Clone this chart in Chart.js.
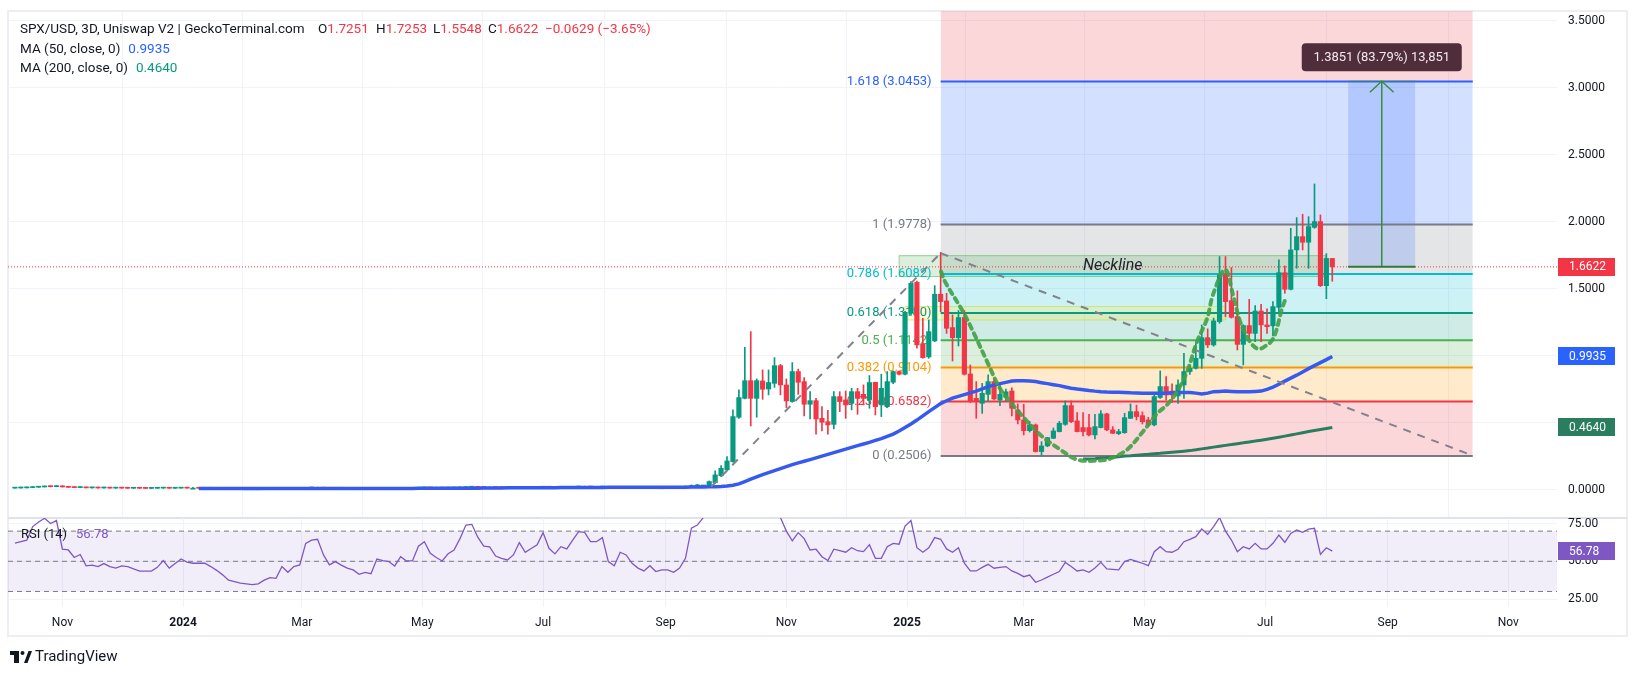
<!DOCTYPE html>
<html>
<head>
<meta charset="utf-8">
<script src="https://cdn.jsdelivr.net/npm/chart.js@4.4.0/dist/chart.umd.min.js"></script>
<style>
  html, body { margin: 0; padding: 0; background: #fff; }
  #wrap { position: relative; width: 1637px; height: 676px; overflow: hidden; }
  #wrap canvas { position: absolute; left: 0; top: 0; }
  #frame { position: absolute; left: 7px; top: 10px; width: 1621px; height: 627px; border: 2px solid #eceef3; box-sizing: border-box; }
</style>
</head>
<body>
<div id="wrap">
  <div id="frame"></div>
  <canvas id="main" width="1637" height="676"></canvas>
  <canvas id="rsi" width="1637" height="676"></canvas>
</div>
<script>
// SPX/USD 3D candles, x values are days counted from 2024-01-01
const LAST_BAR_DAY = 581;   // 2025-08-04
const BAR_DAYS = 3;

// [open, high, low, close], oldest first
const candles = [
  [0.011,0.013,0.010,0.012],[0.012,0.014,0.011,0.013],[0.013,0.016,0.012,0.015],[0.015,0.019,0.014,0.018],[0.018,0.021,0.016,0.020],
  [0.020,0.026,0.019,0.024],[0.024,0.027,0.020,0.022],[0.022,0.031,0.021,0.028],[0.028,0.029,0.019,0.020],[0.020,0.022,0.016,0.017],
  [0.017,0.019,0.014,0.015],[0.015,0.018,0.014,0.016],[0.016,0.017,0.012,0.013],[0.013,0.015,0.011,0.014],[0.014,0.015,0.011,0.012],
  [0.012,0.014,0.011,0.013],[0.013,0.014,0.010,0.011],[0.011,0.013,0.010,0.012],[0.012,0.013,0.010,0.011],[0.011,0.012,0.009,0.010],
  [0.010,0.012,0.009,0.011],[0.011,0.012,0.009,0.010],[0.010,0.011,0.008,0.009],[0.009,0.011,0.008,0.010],[0.010,0.012,0.009,0.011],
  [0.011,0.013,0.010,0.012],[0.012,0.013,0.010,0.010],[0.010,0.012,0.009,0.011],[0.011,0.013,0.010,0.012],[0.012,0.013,0.010,0.011],
  [0.011,0.012,0.010,0.011],[0.011,0.012,0.009,0.010],[0.010,0.012,0.009,0.011],[0.011,0.012,0.009,0.010],[0.010,0.011,0.008,0.009],
  [0.009,0.010,0.007,0.008],[0.008,0.009,0.006,0.007],[0.007,0.008,0.006,0.007],[0.007,0.008,0.006,0.006],[0.006,0.007,0.005,0.006],
  [0.006,0.007,0.005,0.006],[0.006,0.007,0.005,0.006],[0.006,0.008,0.005,0.007],[0.007,0.009,0.006,0.008],[0.008,0.009,0.006,0.007],
  [0.007,0.010,0.007,0.009],[0.009,0.010,0.007,0.008],[0.008,0.010,0.007,0.009],[0.009,0.010,0.008,0.009],[0.009,0.013,0.009,0.012],
  [0.012,0.014,0.011,0.013],[0.013,0.014,0.011,0.013],[0.013,0.014,0.010,0.011],[0.011,0.012,0.009,0.010],[0.010,0.012,0.009,0.011],
  [0.011,0.012,0.009,0.010],[0.010,0.011,0.009,0.010],[0.010,0.011,0.008,0.009],[0.009,0.010,0.008,0.008],[0.008,0.010,0.008,0.009],
  [0.009,0.010,0.007,0.008],[0.008,0.011,0.008,0.010],[0.010,0.011,0.009,0.010],[0.010,0.011,0.009,0.010],[0.010,0.011,0.008,0.009],
  [0.009,0.011,0.009,0.010],[0.010,0.011,0.009,0.010],[0.010,0.011,0.009,0.010],[0.010,0.013,0.010,0.012],[0.012,0.014,0.011,0.013],
  [0.013,0.014,0.011,0.012],[0.012,0.013,0.011,0.012],[0.012,0.013,0.010,0.011],[0.011,0.013,0.011,0.012],[0.012,0.014,0.011,0.013],
  [0.013,0.016,0.012,0.015],[0.015,0.019,0.014,0.018],[0.018,0.020,0.016,0.019],[0.019,0.020,0.016,0.017],[0.017,0.018,0.015,0.016],
  [0.016,0.018,0.015,0.016],[0.016,0.017,0.014,0.015],[0.015,0.016,0.013,0.014],[0.014,0.015,0.013,0.014],[0.014,0.016,0.013,0.015],
  [0.015,0.018,0.015,0.017],[0.017,0.018,0.015,0.016],[0.016,0.018,0.015,0.017],[0.017,0.019,0.016,0.018],[0.018,0.021,0.017,0.020],
  [0.020,0.021,0.017,0.018],[0.018,0.019,0.016,0.017],[0.017,0.019,0.016,0.018],[0.018,0.019,0.016,0.017],[0.017,0.020,0.017,0.019],
  [0.019,0.022,0.018,0.021],[0.021,0.022,0.019,0.021],[0.021,0.022,0.018,0.019],[0.019,0.020,0.017,0.019],[0.019,0.021,0.018,0.020],
  [0.020,0.021,0.016,0.017],[0.017,0.018,0.015,0.016],[0.016,0.019,0.016,0.018],[0.018,0.019,0.016,0.017],[0.017,0.018,0.015,0.016],
  [0.016,0.017,0.014,0.015],[0.015,0.016,0.013,0.014],[0.014,0.016,0.013,0.015],[0.015,0.016,0.013,0.014],[0.014,0.015,0.013,0.014],
  [0.014,0.016,0.013,0.015],[0.015,0.016,0.013,0.014],[0.014,0.016,0.013,0.015],
  [0.015,0.028,0.014,0.025],[0.020,0.035,0.018,0.030],[0.022,0.040,0.020,0.035],[0.027,0.032,0.024,0.030],[0.030,0.065,0.028,0.060],
  [0.052,0.140,0.047,0.110],[0.104,0.179,0.097,0.159],[0.147,0.246,0.142,0.214],[0.209,0.595,0.204,0.545],[0.540,0.744,0.532,0.687],
  [0.681,1.062,0.677,0.813],[0.813,1.179,0.475,0.681],[0.681,0.826,0.540,0.813],[0.811,0.893,0.674,0.749],[0.751,0.893,0.707,0.799],
  [0.793,0.985,0.763,0.925],[0.925,0.935,0.707,0.781],[0.781,0.826,0.612,0.662],[0.657,0.948,0.652,0.881],[0.881,0.900,0.711,0.801],
  [0.806,0.836,0.550,0.637],[0.637,0.731,0.527,0.664],[0.664,0.681,0.413,0.527],[0.532,0.619,0.438,0.502],[0.507,0.592,0.413,0.483],
  [0.487,0.731,0.453,0.694],[0.694,0.731,0.582,0.657],[0.669,0.736,0.532,0.632],[0.644,0.756,0.595,0.731],[0.731,0.756,0.562,0.681],
  [0.711,0.781,0.632,0.681],[0.669,0.851,0.607,0.799],[0.801,0.801,0.557,0.619],[0.632,0.861,0.545,0.756],[0.619,0.881,0.612,0.806],
  [0.801,0.886,0.790,0.881],[0.881,0.886,0.855,0.861],[0.861,1.330,0.855,1.323],[1.316,1.552,1.300,1.540],[1.547,1.557,1.055,1.080],
  [1.084,1.279,0.980,0.985],[0.990,1.266,0.980,1.179],[1.110,1.522,1.104,1.458],[1.458,1.771,1.328,1.403],[1.408,1.465,1.166,1.204],
  [1.209,1.304,0.960,1.134],[1.134,1.336,1.072,1.284],[1.284,1.336,0.855,0.861],[0.863,0.930,0.650,0.657],[0.681,0.806,0.532,0.657],
  [0.644,0.793,0.569,0.719],[0.711,0.856,0.657,0.806],[0.806,0.830,0.670,0.677],[0.669,0.793,0.627,0.711],[0.690,0.750,0.660,0.730],
  [0.736,0.760,0.550,0.607],[0.595,0.640,0.490,0.520],[0.520,0.637,0.408,0.440],[0.440,0.510,0.430,0.483],[0.483,0.490,0.280,0.284],
  [0.284,0.358,0.254,0.326],[0.326,0.390,0.320,0.388],[0.383,0.460,0.380,0.438],[0.433,0.510,0.430,0.495],[0.487,0.662,0.480,0.627],
  [0.627,0.662,0.500,0.507],[0.513,0.575,0.430,0.433],[0.463,0.575,0.400,0.433],[0.463,0.562,0.400,0.408],[0.408,0.562,0.378,0.470],
  [0.463,0.590,0.460,0.565],[0.565,0.570,0.440,0.446],[0.446,0.470,0.420,0.420],[0.418,0.450,0.410,0.433],[0.425,0.570,0.420,0.537],
  [0.532,0.640,0.530,0.582],[0.582,0.630,0.520,0.545],[0.552,0.580,0.490,0.507],[0.520,0.540,0.470,0.483],[0.483,0.720,0.475,0.694],
  [0.687,0.886,0.680,0.769],[0.769,0.843,0.669,0.706],[0.736,0.790,0.650,0.706],[0.699,0.819,0.644,0.781],[0.781,1.017,0.681,0.881],
  [0.881,0.930,0.860,0.905],[0.905,1.090,0.900,0.980],[0.980,1.229,0.905,1.134],[1.134,1.200,1.060,1.080],[1.080,1.280,1.070,1.259],
  [1.254,1.739,1.241,1.602],[1.602,1.739,1.291,1.403],[1.410,1.657,1.280,1.286],[1.291,1.483,1.042,1.084],[1.084,1.230,0.930,1.224],
  [1.224,1.420,1.129,1.166],[1.166,1.373,1.104,1.333],[1.333,1.383,1.104,1.229],[1.229,1.349,1.166,1.216],[1.222,1.403,1.147,1.366],
  [1.360,1.714,1.328,1.619],[1.619,1.669,1.465,1.495],[1.495,1.950,1.490,1.789],[1.789,2.030,1.652,1.888],[1.888,2.055,1.789,1.846],
  [1.846,2.037,1.652,1.963],[1.957,2.281,1.950,2.000],[2.000,2.050,1.515,1.522],[1.522,1.761,1.425,1.7251],[1.7251,1.7253,1.5548,1.6622]
];

// moving averages, aligned to the last candle
const ma50 = [
  0.009,0.009,0.009,0.009,0.009,0.009,0.009,0.009,0.009,0.009,
  0.009,0.009,0.008,0.008,0.008,0.008,0.008,0.008,0.008,0.008,
  0.008,0.008,0.008,0.008,0.008,0.008,0.008,0.008,0.008,0.008,
  0.009,0.009,0.009,0.009,0.009,0.009,0.009,0.010,0.010,0.010,
  0.010,0.010,0.010,0.011,0.011,0.011,0.011,0.011,0.012,0.012,
  0.012,0.012,0.013,0.013,0.013,0.013,0.013,0.014,0.014,0.014,
  0.014,0.015,0.015,0.015,0.015,0.016,0.016,0.016,0.016,0.017,
  0.017,0.017,0.017,0.017,0.017,0.017,0.017,0.017,0.017,
  0.017,0.017,0.018,0.018,0.019,0.019,0.020,0.021,0.022,0.024,
  0.027,0.033,0.043,0.060,0.078,0.095,0.112,0.127,0.142,0.157,
  0.172,0.186,0.200,0.212,0.224,0.237,0.250,0.263,0.276,0.289,
  0.302,0.315,0.328,0.340,0.353,0.367,0.381,0.397,0.414,0.437,
  0.463,0.490,0.519,0.550,0.582,0.612,0.642,0.663,0.683,0.696,
  0.709,0.722,0.735,0.752,0.769,0.780,0.791,0.800,0.810,0.812,
  0.813,0.810,0.806,0.798,0.791,0.783,0.776,0.766,0.757,0.751,
  0.746,0.740,0.735,0.731,0.728,0.727,0.726,0.724,0.722,0.721,
  0.720,0.719,0.719,0.720,0.720,0.722,0.724,0.724,0.724,0.720,
  0.713,0.720,0.731,0.733,0.735,0.733,0.731,0.731,0.731,0.733,
  0.735,0.748,0.765,0.786,0.810,0.832,0.854,0.878,0.903,0.925,
  0.948,0.970,0.9935
];
const ma200 = [
  0.228,0.229,0.231,0.235,0.238,0.242,0.246,0.250,0.253,0.257,
  0.261,0.264,0.268,0.271,0.275,0.279,0.283,0.287,0.291,0.297,
  0.304,0.310,0.317,0.323,0.330,0.336,0.343,0.349,0.356,0.362,
  0.369,0.376,0.384,0.391,0.399,0.407,0.416,0.424,0.433,0.441,
  0.449,0.456,0.464
];

// RSI(14), aligned to the last candle
const rsi = [
  62,63,64,73,76,78.5,75,77,58,57.5,
  52.5,54.5,47,47.5,46.5,48.5,46.5,45.5,47,46.5,
  45,43.5,43.5,43.5,46,50.5,45.5,48.5,51.5,49.5,
  48.7,48.7,48.7,46.5,44,41,37.5,36.5,35.5,35,
  34.5,35,37.5,39.2,38.7,46.5,42.7,46.5,47.6,61.9,
  64,64.6,54.2,47.6,49.8,47.5,45.5,44.3,41.4,42.7,
  41.8,51.5,50.5,49.8,46.9,53.1,50.2,50.4,60,63,
  55.3,52.5,50.2,55,57.5,65,74,74.5,66,60,
  59.5,53.5,52,50.9,54.2,62.4,56,58.5,61,69,
  58.6,54.9,59.7,58.2,64,69.6,69.2,63,63,65.7,
  49.8,47.1,56,54.2,48.7,45.5,43.6,47.1,43.2,44.3,
  44.3,42.7,45.5,52,72,74,79,84,88,91,
  92,94,92,90,86,88,85,84,82,79,
  70,63.5,69,65,57.5,58,53,50.5,58,57,
  56,59,57,56.4,61,52,52,59.7,61.9,61.3,
  73.4,77,59,56,59,65.7,64.6,58.2,56,59,
  48.7,43.6,43.6,46,48,45.4,46,46.5,43.6,42,
  39.8,40.9,36.1,37.6,39.5,41.4,43.2,49.3,46.5,43.6,
  44.3,42.7,45.5,49.3,44.9,44.6,44.3,49.8,51.3,50,
  48.7,47.1,56.4,59.7,56.4,56,58,63,64.5,66.3,
  71.4,67.9,73,79,70,64.1,56.4,59.7,58.2,61.9,
  58.2,58.2,61.9,67.4,62.6,68.5,70.8,69.2,71.4,71.9,
  54.6,59,56.78
];

// time axis
const monthTickDays = [-61, 0, 60, 121, 182, 244, 305, 366, 425, 486, 547, 609, 670];
const monthTickLabels = ['Nov', '2024', 'Mar', 'May', 'Jul', 'Sep', 'Nov', '2025', 'Mar', 'May', 'Jul', 'Sep', 'Nov'];
const priceTicks = [0, 0.5, 1, 1.5, 2, 2.5, 3, 3.5];
const rsiTicks = [25, 50, 75];
const rsiBands = [70, 50, 30];

// fibonacci retracement drawing
const fibRatios = [0, 0.236, 0.382, 0.5, 0.618, 0.786, 1, 1.618, 2.618];
const fibPrices = [0.2506, 0.6582, 0.9104, 1.1142, 1.3180, 1.6082, 1.9778, 3.0453, 4.7722];
const fibDays = [383, 652];

// other drawings (day, price)
const riseDays = [267, 383], risePrices = [0.022, 1.765];
const fallDays = [383, 652], fallPrices = [1.765, 0.254];
const necklineDays = [362, 578], necklinePrices = [1.59, 1.746];
const goldenDays = [365, 527], goldenPrices = [1.266, 1.366];
const targetDays = [589, 623], targetPrices = [1.6622, 3.0473], targetArrowDay = 606;
const cupDays = [383.2, 385.2, 394.3, 399.4, 406.5, 413.0, 418.1, 423.2, 433.3, 443.4, 452.0, 462.1, 468.7, 477.3, 485.3, 492.4,
  497.5, 502.5, 507.6, 512.6, 517.7, 520.7, 526.8, 530.8, 534.4, 539.4, 543.0, 546.0, 551.1, 555.6, 557.6];
const cupPrices = [1.627, 1.552, 1.328, 1.179, 0.955, 0.754, 0.657, 0.567, 0.410, 0.299, 0.224, 0.216, 0.231, 0.299, 0.433, 0.567,
  0.634, 0.731, 0.881, 1.104, 1.276, 1.455, 1.642, 1.455, 1.254, 1.104, 1.052, 1.060, 1.127, 1.351, 1.433];

const lastPrice = 1.6622, lastMa50 = 0.9935, lastMa200 = 0.4640, lastRsi = 56.78;

// ---- styles ----
const FONT = 'Roboto, "Noto Sans", Arial, sans-serif';
const TEXT = '#131722';
const GRID = '#f0f3fa';
const GREEN = '#089981', RED = '#f23645';
const MA50_COLOR = '#3659f0', MA200_COLOR = '#2a7d5f';
const fibColors = ['#787b86', '#f23645', '#ff9800', '#4caf50', '#089981', '#00bcd4', '#787b86', '#2962ff', '#f23645'];
const X_MIN = -88.5, X_MAX = 694.6;
const Y_MIN = -0.2044, Y_MAX = 3.5717;

const hexA = (hex, a) => {
  const n = parseInt(hex.slice(1), 16);
  return `rgba(${n >> 16},${(n >> 8) & 255},${n & 255},${a})`;
};
const pts = (xs, ys) => xs.map((x, i) => ({ x, y: ys[i] }));
const hLine = (p, from, to) => [{ x: from, y: p }, { x: to, y: p }];

const N = candles.length;
const barDay = i => LAST_BAR_DAY - BAR_DAYS * (N - 1 - i);
const series = arr => {
  const off = N - arr.length;
  return arr.map((v, j) => ({ x: barDay(j + off), y: v }));
};

const candleColors = candles.map(c => (c[3] >= c[0] ? GREEN : RED));
const bodyData = candles.map((c, i) => ({ x: barDay(i), y: [Math.min(c[0], c[3]), Math.max(c[0], c[3])] }));
const wickData = candles.map((c, i) => ({ x: barDay(i), y: [c[2], c[1]] }));

const lineBase = { type: 'line', pointRadius: 0, fill: false, tension: 0 };

const fibSets = fibPrices.map((p, i) => ({
  ...lineBase,
  data: hLine(p, fibDays[0], fibDays[1]),
  borderColor: fibColors[i],
  borderWidth: 2,
  fill: i === 0 ? false : { target: { value: fibPrices[i - 1] } },
  backgroundColor: hexA(fibColors[i], 0.2),
  order: 10
}));

const boxSets = (days, prices, fillColor, lineColor) => [
  { ...lineBase, data: hLine(prices[1], days[0], days[1]), borderWidth: 0,
    fill: { target: { value: prices[0] } }, backgroundColor: fillColor, order: 9 },
  { ...lineBase, data: [{ x: days[0], y: prices[0] }, { x: days[0], y: prices[1] }, { x: days[1], y: prices[1] },
      { x: days[1], y: prices[0] }, { x: days[0], y: prices[0] }],
    borderColor: lineColor, borderWidth: 1, order: 9 }
];

const mainDatasets = [
  ...fibSets,
  ...boxSets(necklineDays, necklinePrices, 'rgba(76,175,80,0.2)', 'rgba(76,175,80,0.55)'),
  ...boxSets(goldenDays, goldenPrices, 'rgba(255,235,59,0.22)', 'rgba(205,220,57,0.6)'),
  { ...lineBase, data: hLine(targetPrices[1], targetDays[0], targetDays[1]), borderWidth: 0,
    fill: { target: { value: targetPrices[0] } }, backgroundColor: 'rgba(41,98,255,0.2)', order: 9 },
  { ...lineBase, data: hLine(lastPrice, X_MIN, X_MAX), borderColor: RED, borderWidth: 1, borderDash: [1, 2], order: 8 },
  { type: 'bar', data: wickData, backgroundColor: candleColors, barThickness: 1, grouped: false, minBarLength: 1, order: 6 },
  { type: 'bar', data: bodyData, backgroundColor: candleColors, barThickness: 4.5, grouped: false, minBarLength: 1, order: 5 },
  { ...lineBase, data: series(ma200), borderColor: MA200_COLOR, borderWidth: 3, order: 4 },
  { ...lineBase, data: series(ma50), borderColor: MA50_COLOR, borderWidth: 3.5, order: 4 },
  { ...lineBase, data: pts(riseDays, risePrices), borderColor: '#80838d', borderWidth: 2, borderDash: [8, 7], order: 3 },
  { ...lineBase, data: pts(fallDays, fallPrices), borderColor: '#80838d', borderWidth: 2, borderDash: [8, 7], order: 3 },
  { ...lineBase, data: pts(cupDays, cupPrices), borderColor: 'rgba(67,160,71,0.9)', borderWidth: 4, borderDash: [5, 5],
    borderCapStyle: 'round', tension: 0.35, order: 2 },
  { ...lineBase, data: hLine(targetPrices[0], targetDays[0], targetDays[1]), borderColor: '#2e7d32', borderWidth: 2, order: 1 },
  { ...lineBase, data: hLine(targetPrices[1], targetDays[0], targetDays[1]), borderColor: 'rgba(56,142,60,0.6)', borderWidth: 1, order: 1 },
  { ...lineBase, data: [{ x: targetArrowDay, y: targetPrices[0] }, { x: targetArrowDay, y: targetPrices[1] }],
    borderColor: '#388e3c', borderWidth: 1.5, order: 1 },
  { ...lineBase, data: [{ x: targetArrowDay - 6, y: targetPrices[1] - 0.082 }, { x: targetArrowDay, y: targetPrices[1] },
      { x: targetArrowDay + 6, y: targetPrices[1] - 0.082 }], borderColor: '#388e3c', borderWidth: 1.5, order: 1 }
];

const tag = (ctx, yPix, text, bg) => {
  ctx.fillStyle = bg;
  ctx.fillRect(1558, Math.round(yPix) - 9, 57, 18);
  ctx.fillStyle = '#ffffff';
  ctx.font = `12px ${FONT}`;
  ctx.textAlign = 'left';
  ctx.textBaseline = 'middle';
  ctx.fillText(text, 1569, yPix + 0.5);
};

const mainOverlay = {
  id: 'mainOverlay',
  beforeDatasetsDraw(chart) {
    const { ctx, scales: { x, y } } = chart;
    ctx.save();
    ctx.font = `13px ${FONT}`;
    ctx.textAlign = 'right';
    ctx.textBaseline = 'middle';
    const lx = x.getPixelForValue(fibDays[0]) - 9;
    fibRatios.forEach((r, i) => {
      const py = y.getPixelForValue(fibPrices[i]);
      if (py < chart.chartArea.top) return;
      ctx.fillStyle = fibColors[i];
      ctx.fillText(`${r} (${fibPrices[i].toFixed(4)})`, lx, py);
    });
    ctx.restore();
  },
  afterDraw(chart) {
    const { ctx, scales: { x, y } } = chart;
    ctx.save();
    // neckline caption
    ctx.font = `italic 16px ${FONT}`;
    ctx.fillStyle = '#1e222d';
    ctx.textAlign = 'center';
    ctx.textBaseline = 'middle';
    ctx.fillText('Neckline', x.getPixelForValue(470), y.getPixelForValue(1.668));

    // measure label
    const mx = x.getPixelForValue(targetArrowDay);
    const my = y.getPixelForValue(targetPrices[1]) - 24;
    ctx.fillStyle = '#4f2d3a';
    ctx.beginPath();
    ctx.roundRect(mx - 80, my - 14, 160, 28, 4);
    ctx.fill();
    ctx.fillStyle = '#f3eaee';
    ctx.font = `13px ${FONT}`;
    ctx.fillText('1.3851 (83.79%) 13,851', mx, my + 0.5);

    // header legend
    ctx.textAlign = 'left';
    ctx.font = `13.5px ${FONT}`;
    const seg = (txt, x0, yy, col) => { ctx.fillStyle = col; ctx.fillText(txt, x0, yy); return x0 + ctx.measureText(txt).width; };
    seg('SPX/USD, 3D, Uniswap V2 | GeckoTerminal.com', 20, 30, TEXT);
    const ohlc = [['O', '1.7251', 318], ['H', '1.7253', 376], ['L', '1.5548', 433], ['C', '1.6622', 488]];
    ohlc.forEach(([k, v, px]) => { const e = seg(k, px, 30, TEXT); seg(v, e, 30, RED); });
    seg('\u22120.0629 (\u22123.65%)', 545, 30, RED);
    let e = seg('MA (50, close, 0)', 20, 50, TEXT);
    seg(lastMa50.toFixed(4), e + 8, 50, '#2962ff');
    e = seg('MA (200, close, 0)', 20, 69, TEXT);
    seg(lastMa200.toFixed(4), e + 8, 69, GREEN);

    // price scale tags
    tag(ctx, y.getPixelForValue(lastPrice), lastPrice.toFixed(4), RED);
    tag(ctx, y.getPixelForValue(lastMa50), lastMa50.toFixed(4), '#2962ff');
    tag(ctx, y.getPixelForValue(lastMa200), lastMa200.toFixed(4), MA200_COLOR);

    // pane separator
    ctx.strokeStyle = '#e0e3eb';
    ctx.lineWidth = 2;
    ctx.beginPath();
    ctx.moveTo(8, chart.chartArea.bottom + 1);
    ctx.lineTo(1627, chart.chartArea.bottom + 1);
    ctx.stroke();
    ctx.restore();
  }
};

// no extra padding for edge labels: the plot area stays where it is placed
const noEdgePadding = s => { s.paddingTop = 0; s.paddingBottom = 0; s.paddingLeft = 0; s.paddingRight = 0; };

const xScale = (showLabels, height) => ({
  type: 'linear', min: X_MIN, max: X_MAX, offset: false,
  afterBuildTicks: s => { s.ticks = monthTickDays.map(v => ({ value: v })); },
  afterFit: s => { s.height = height; noEdgePadding(s); },
  grid: { color: GRID, drawTicks: false },
  border: { display: false },
  ticks: {
    display: showLabels, autoSkip: false, maxRotation: 0, padding: 9, color: TEXT,
    font: c => ({ family: FONT, size: 12, weight: /^\d{4}$/.test(monthTickLabels[c.index] || '') ? 'bold' : 'normal' }),
    callback: (v, i) => monthTickLabels[i]
  }
});

// scale labels hidden under the value tags
const hiddenNear = [lastMa50, lastMa200];

new Chart(document.getElementById('main'), {
  type: 'bar',
  data: { datasets: mainDatasets },
  options: {
    responsive: false, animation: false, events: [],
    layout: { autoPadding: false, padding: { top: 11, left: 8, right: 9, bottom: 159 } },
    scales: {
      x: xScale(false, 0),
      y: {
        position: 'right', min: Y_MIN, max: Y_MAX,
        afterBuildTicks: s => { s.ticks = priceTicks.map(v => ({ value: v })); },
        afterFit: s => { s.width = 71; noEdgePadding(s); },
        grid: { color: GRID, drawTicks: false },
        border: { display: false },
        ticks: {
          color: TEXT, font: { family: FONT, size: 12 }, padding: 11,
          callback: v => (hiddenNear.some(h => Math.abs(h - v) < 0.1) ? '' : Number(v).toFixed(4))
        }
      }
    },
    plugins: { legend: { display: false }, tooltip: { enabled: false }, filler: { drawTime: 'beforeDatasetsDraw' } }
  },
  plugins: [mainOverlay]
});

// ---- RSI pane ----
const rsiOverlay = {
  id: 'rsiOverlay',
  afterDraw(chart) {
    const { ctx, scales: { y } } = chart;
    ctx.save();
    ctx.font = `13px ${FONT}`;
    ctx.textAlign = 'left';
    ctx.textBaseline = 'middle';
    ctx.fillStyle = TEXT;
    ctx.fillText('RSI (14)', 21, 535);
    ctx.fillStyle = '#7e57c2';
    ctx.fillText(lastRsi.toFixed(2), 76, 535);
    tag(ctx, y.getPixelForValue(lastRsi), lastRsi.toFixed(2), '#7e57c2');

    // TradingView mark
    ctx.fillStyle = TEXT;
    ctx.fillRect(10, 651, 9, 4);
    ctx.fillRect(14, 651, 5, 12);
    ctx.beginPath(); ctx.arc(22.5, 653, 2, 0, Math.PI * 2); ctx.fill();
    ctx.beginPath();
    ctx.moveTo(24, 663); ctx.lineTo(28.5, 651); ctx.lineTo(32, 651); ctx.lineTo(27.5, 663); ctx.closePath(); ctx.fill();
    ctx.font = `15px ${FONT}`;
    ctx.fillText('TradingView', 35, 657);
    ctx.restore();
  }
};

const rsiDatasets = [
  { ...lineBase, data: hLine(rsiBands[0], X_MIN, X_MAX), borderWidth: 0,
    fill: { target: { value: rsiBands[2] } }, backgroundColor: 'rgba(126,87,194,0.1)', order: 5 },
  ...rsiBands.map(v => ({ ...lineBase, data: hLine(v, X_MIN, X_MAX), borderColor: '#787b86', borderWidth: 1, borderDash: [5, 4], order: 4 })),
  { ...lineBase, data: series(rsi), borderColor: '#7e57c2', borderWidth: 1.3, order: 1 }
];

new Chart(document.getElementById('rsi'), {
  type: 'line',
  data: { datasets: rsiDatasets },
  options: {
    responsive: false, animation: false, events: [],
    layout: { autoPadding: false, padding: { top: 518, left: 8, right: 9, bottom: 40 } },
    scales: {
      x: xScale(true, 29),
      y: {
        position: 'right', min: 19.7, max: 78.7,
        afterBuildTicks: s => { s.ticks = rsiTicks.map(v => ({ value: v })); },
        afterFit: s => { s.width = 71; noEdgePadding(s); },
        grid: { color: GRID, drawTicks: false },
        border: { display: false },
        ticks: { color: TEXT, font: { family: FONT, size: 12 }, padding: 11, callback: v => Number(v).toFixed(2) }
      }
    },
    plugins: { legend: { display: false }, tooltip: { enabled: false }, filler: { drawTime: 'beforeDatasetsDraw' } }
  },
  plugins: [rsiOverlay]
});
</script>
</body>
</html>
